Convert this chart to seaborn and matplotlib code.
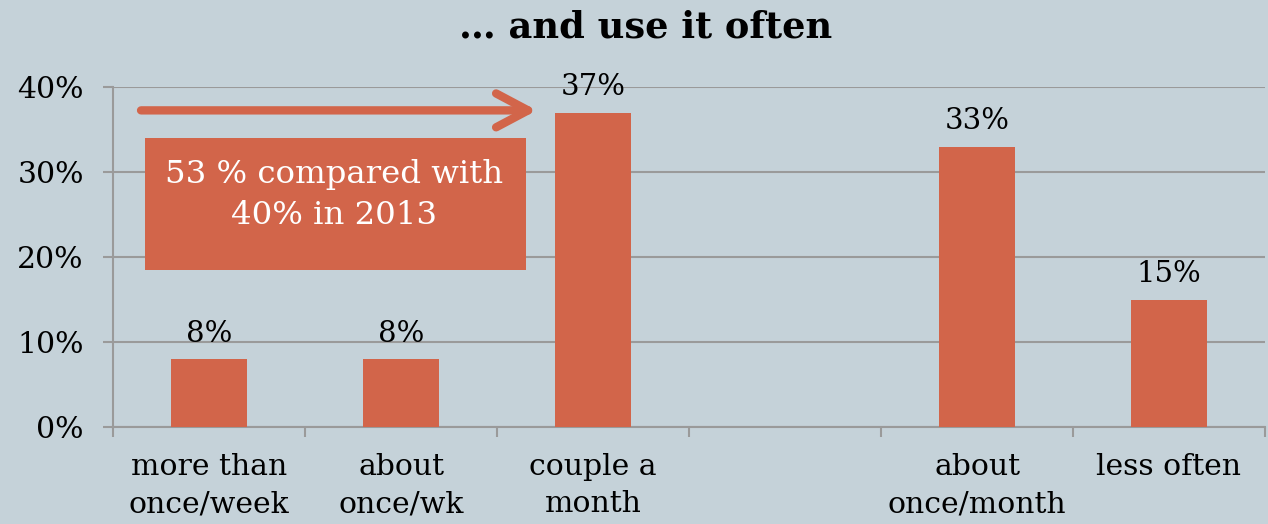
import matplotlib
matplotlib.use("Agg")
import matplotlib.pyplot as plt
from matplotlib.patches import Rectangle
import seaborn as sns
import pandas as pd

categories = ["more than\nonce/week", "about\nonce/wk", "couple a\nmonth", "",
              "about\nonce/month", "less often"]
values = [8, 8, 37, None, 33, 15]
yticks = [0, 10, 20, 30, 40]
ytick_labels = ["0%", "10%", "20%", "30%", "40%"]
title = "… and use it often"
callout = "53 % compared with\n40% in 2013"

BG = "#C5D2D9"
BAR = "#D2654A"
GRID = "#9A9A9A"

sns.set_theme(style="white")
plt.rcParams["font.family"] = ["DejaVu Serif"]

df = pd.DataFrame({"cat": categories, "val": values}).dropna()

fig = plt.figure(figsize=(12.68, 5.24), dpi=100)
fig.patch.set_facecolor(BG)
ax = fig.add_axes([113 / 1268, 97 / 524, (1265 - 113) / 1268, (427 - 87) / 524])
ax.set_facecolor(BG)

sns.barplot(data=df, x="cat", y="val", order=categories, color=BAR,
            width=0.4, saturation=1, ax=ax, zorder=3, edgecolor="none", linewidth=0)

ax.set_xlim(-0.5, len(categories) - 0.5)
ax.set_ylim(0, 40)
ax.set_xlabel("")
ax.set_ylabel("")

# grid and spines
ax.set_yticks(yticks)
ax.set_yticklabels(ytick_labels, fontsize=21.5, color="black")
ax.yaxis.grid(True, color=GRID, lw=1.5, zorder=0)
ax.set_axisbelow(True)
for s in ["top", "right"]:
    ax.spines[s].set_visible(False)
for s in ["left", "bottom"]:
    ax.spines[s].set_color(GRID)
    ax.spines[s].set_linewidth(1.5)
ax.tick_params(axis="y", length=7, width=1.5, color=GRID, pad=14, direction="out", left=True)

ax.set_xticks(range(len(categories)))
ax.set_xticklabels(categories, fontsize=21.5, color="black", linespacing=1.4, va="top")
ax.set_xticks([i - 0.5 for i in range(len(categories) + 1)], minor=True)
ax.tick_params(axis="x", which="major", length=0, pad=19)
ax.tick_params(axis="x", which="minor", length=7, width=1.5, color=GRID, direction="out", bottom=True)

# value labels
for i, v in enumerate(values):
    if v is None:
        continue
    ax.annotate(f"{v}%", xy=(i, v), xytext=(0, 8), textcoords="offset points",
                ha="center", va="bottom", fontsize=21, color="black")

# arrow
ax.annotate("", xy=(1.708, 37.25), xytext=(-0.354, 37.25),
            arrowprops=dict(arrowstyle="->,head_length=1.15,head_width=0.61",
                            lw=6, color=BAR, shrinkA=0, shrinkB=0,
                            mutation_scale=20, capstyle="round", joinstyle="round"),
            annotation_clip=False)

# callout box
ax.add_patch(Rectangle((-0.333, 18.47), 1.984, 15.53, facecolor=BAR, edgecolor="none", zorder=4))
ax.text(0.651, 27.3, callout, ha="center", va="center", color="white",
        fontsize=23.3, linespacing=1.4, zorder=5)

fig.text(0.509, 1 - 28 / 524, title, ha="center", va="center",
         fontsize=26.5, fontweight="bold", color="black")

fig.savefig("out.png", dpi=100, facecolor=BG)
